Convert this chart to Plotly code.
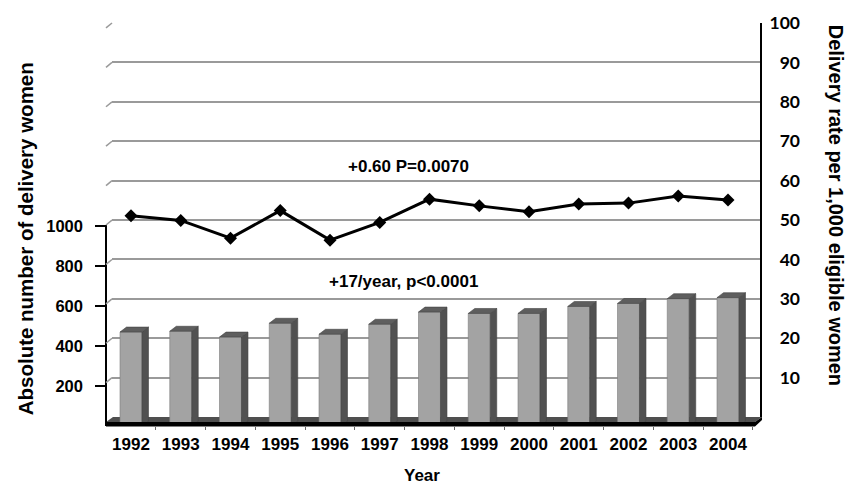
import plotly.graph_objects as go

# ---- data -------------------------------------------------------------
years = ["1992", "1993", "1994", "1995", "1996", "1997", "1998",
         "1999", "2000", "2001", "2002", "2003", "2004"]
deliveries = [470, 474, 445, 514, 459, 509, 570, 563, 563, 598, 613, 637, 642]
rate_per_1000 = [51.1, 49.9, 45.4, 52.4, 44.9, 49.4, 55.3,
                 53.6, 52.1, 54.1, 54.3, 56.1, 55.1]
left_ticks = [200, 400, 600, 800, 1000]
right_ticks = [10, 20, 30, 40, 50, 60, 70, 80, 90, 100]

# ---- page geometry (pixels) ------------------------------------------
W, H = 850, 485
PL, PR, PT, PB = 106, 800, 18, 426          # paper area
X0, X1 = 112, 760                            # back wall left/right
BACK0 = 417                                  # back floor edge (rate = 0)
FRONT_TOP = 223                              # top of the count axis
STEP = 49.75                                 # px per category
C0 = 131                                     # centre of first category


def px_x(p):
    return (p - PL) / (PR - PL)


def px_y(p):
    return (PB - p) / (PB - PT)


count_per_px = 4.94
front_max = (PB - FRONT_TOP) * count_per_px
rate_per_px = 100 / (BACK0 - PT)

idx = list(range(len(years)))
x_range = [(X0 - C0) / STEP, (X1 - C0) / STEP]

# 3-D box parameters
hw = 0.221                       # half width of the bar front face
dxu = 6.5 / STEP                 # depth offset (x)
dyu = 5 * count_per_px           # depth offset (y, count units)

BOLD = "Liberation Sans, Arial, sans-serif"

fig = go.Figure()

# front faces of the bars
fig.add_trace(go.Bar(
    x=idx, y=deliveries, width=2 * hw, xaxis="x", yaxis="y3",
    marker=dict(color="#a3a3a3", line=dict(color="#7c7c7c", width=0.6)),
    hoverinfo="skip", showlegend=False,
))

# side and top faces of the bars
side_x, side_y, top_x, top_y = [], [], [], []
for i, v in zip(idx, deliveries):
    side_x += [i + hw, i + hw + dxu, i + hw + dxu, i + hw, i + hw, None]
    side_y += [0, dyu, v + dyu, v, 0, None]
    top_x += [i - hw, i + hw, i + hw + dxu, i - hw + dxu, i - hw, None]
    top_y += [v, v, v + dyu, v + dyu, v, None]

fig.add_trace(go.Scatter(
    x=side_x, y=side_y, xaxis="x", yaxis="y3", mode="lines",
    fill="toself", fillcolor="#515151", line=dict(color="#444444", width=0.6),
    hoverinfo="skip", showlegend=False,
))
fig.add_trace(go.Scatter(
    x=top_x, y=top_y, xaxis="x", yaxis="y3", mode="lines",
    fill="toself", fillcolor="#5e5e5e", line=dict(color="#444444", width=0.6),
    hoverinfo="skip", showlegend=False,
))

# delivery rate line
fig.add_trace(go.Scatter(
    x=idx, y=rate_per_1000, xaxis="x", yaxis="y", mode="lines+markers",
    line=dict(color="black", width=3),
    marker=dict(symbol="diamond", size=10, color="black"),
    hoverinfo="skip", showlegend=False,
))
# same series bound to the label axis so that its tick labels are drawn
fig.add_trace(go.Scatter(
    x=idx, y=rate_per_1000, xaxis="x", yaxis="y4", mode="lines",
    line=dict(width=0), opacity=0, hoverinfo="skip", showlegend=False,
))

# ---- decorations: floor slab and side wall ----------------------------
shapes = []


def path(points):
    s = "M " + " L ".join(f"{px_x(a):.5f},{px_y(b):.5f}" for a, b in points)
    return s + " Z"


shapes.append(dict(
    type="path", xref="paper", yref="paper", layer="below",
    path=path([(106, 422), (755, 422), (762, 417), (113, 417)]),
    fillcolor="#4f4f4f", line=dict(width=0),
))
shapes.append(dict(
    type="path", xref="paper", yref="paper", layer="above",
    path=path([(106, 422), (755, 422), (762, 417), (762, 420), (755, 426.5), (106, 426.5)]),
    fillcolor="black", line=dict(width=0),
))
for t in right_ticks:
    gy = BACK0 - t / rate_per_px
    shapes.append(dict(
        type="line", xref="paper", yref="paper",
        x0=px_x(106), y0=px_y(gy + 5), x1=px_x(X0), y1=px_y(gy),
        line=dict(color="#9a9a9a", width=1.5),
    ))


def label(text, x, y, xref, yref, size, angle=0):
    return dict(text=text, x=x, y=y, xref=xref, yref=yref, textangle=angle,
                xanchor="center", yanchor="middle", showarrow=False,
                font=dict(family=BOLD, size=size, color="black", weight="bold"))


annotations = [
    label("+0.60 P=0.0070", (408 - C0) / STEP, 63.5, "x", "y", 17),
    label("+17/year, p<0.0001", (403 - C0) / STEP, 34.4, "x", "y", 17),
    label("Absolute number of delivery women", px_x(25), px_y(237),
          "paper", "paper", 20.5, -90),
    label("Delivery rate per 1,000 eligible women", px_x(836), px_y(202),
          "paper", "paper", 20, 90),
    label("Year", px_x(422), px_y(476), "paper", "paper", 17),
]

fig.update_layout(
    width=W, height=H, autosize=False,
    margin=dict(l=PL, r=W - PR, t=PT, b=H - PB, pad=0),
    paper_bgcolor="white", plot_bgcolor="rgba(0,0,0,0)",
    barmode="overlay", showlegend=False,
    shapes=shapes, annotations=annotations,
    xaxis=dict(
        domain=[px_x(X0), px_x(X1)], range=x_range, anchor="y3",
        tickmode="array", tickvals=idx, ticktext=years, ticks="",
        showgrid=False, zeroline=False, showline=False,
        tickfont=dict(family=BOLD, size=17, color="black", weight="bold"),
        ticklabelstandoff=6,
        minor=dict(ticks="outside", tick0=-0.5, dtick=1, ticklen=3,
                   tickcolor="#666666", tickwidth=1, showgrid=False),
    ),
    yaxis=dict(
        domain=[px_y(BACK0), 1], range=[0, 100], anchor="x", side="right",
        tickmode="array", tickvals=right_ticks, showticklabels=False, ticks="",
        showgrid=True, gridcolor="#9a9a9a", gridwidth=1.5, zeroline=False,
        showline=True, linecolor="black", linewidth=1.5,
    ),
    yaxis3=dict(
        domain=[0, px_y(FRONT_TOP)], range=[0, front_max], anchor="free",
        position=0, side="left", tickmode="array", tickvals=left_ticks,
        ticks="outside", ticklen=10, tickcolor="black", tickwidth=1.5,
        showgrid=False, zeroline=False, showline=True, linecolor="black",
        linewidth=1.5, ticklabelstandoff=9,
        tickfont=dict(family=BOLD, size=16.5, color="black", weight="bold"),
    ),
    yaxis4=dict(
        overlaying="y", range=[0, 100], anchor="free", position=1, side="left",
        tickmode="array", tickvals=right_ticks, ticks="", showgrid=False,
        zeroline=False, showline=False,
        tickfont=dict(family="Lato, Open Sans, sans-serif", size=17.5,
                      color="black", weight="bold"),
    ),
)

fig.write_html("out.html")
